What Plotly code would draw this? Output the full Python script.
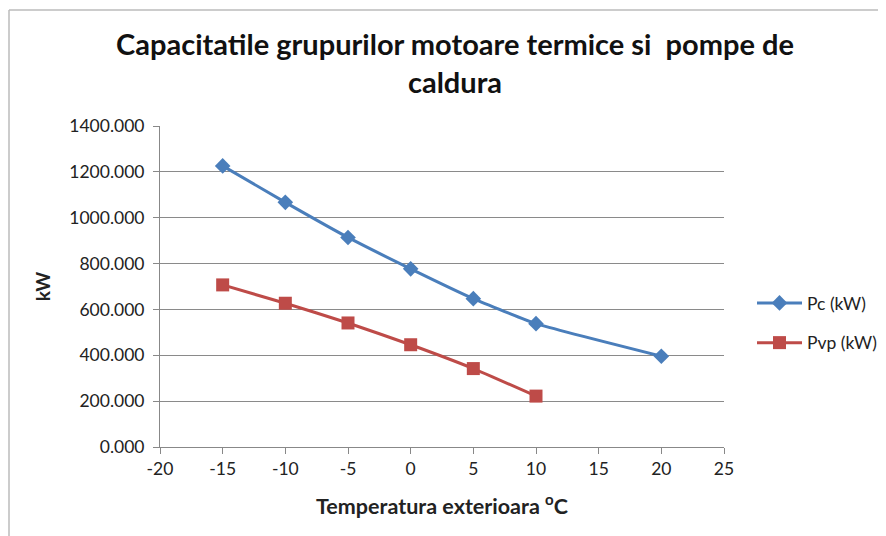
import plotly.graph_objects as go

temps_pc = [-15, -10, -5, 0, 5, 10, 20]
pc_kw = [1226, 1067, 914, 777, 647, 538, 396]
temps_pvp = [-15, -10, -5, 0, 5, 10]
pvp_kw = [707, 627, 541, 446, 342, 222]

x_ticks = [-20, -15, -10, -5, 0, 5, 10, 15, 20, 25]
x_tick_labels = [str(v) for v in x_ticks]

title_text = "Capacitatile grupurilor motoare termice si  pompe de<br>caldura"
x_title = "Temperatura exterioara <sup>o</sup>C"
y_title = "kW"

W, H = 886, 536
OFF = 8  # page body margin offset
# plot area in page pixels: x 160..724, y 126..447
L = 160 - OFF
T = 126 - OFF
R = W - (724 - OFF)
B = H - (447 - OFF)
pw, ph = W - L - R, H - T - B

def px(x):
    return (x - OFF - L) / pw

def py(y):
    return (H - B - (y - OFF)) / ph

font_family = "Lato, Open Sans, sans-serif"

fig = go.Figure()
fig.add_trace(go.Scatter(
    x=temps_pc, y=pc_kw, name="Pc (kW)", mode="lines+markers", legendgroup="a",
    line=dict(color="#4A7EBB", width=3, shape="spline", smoothing=0.4),
    marker=dict(symbol="diamond", size=12, color="#4A7EBB"),
))
fig.add_trace(go.Scatter(
    x=temps_pvp, y=pvp_kw, name="Pvp (kW)", mode="lines+markers", legendgroup="b",
    line=dict(color="#BE4B48", width=3, shape="spline", smoothing=0.4),
    marker=dict(symbol="square", size=13, color="#BE4B48"),
))

fig.update_layout(
    width=W, height=H,
    margin=dict(l=L, r=R, t=T, b=B, autoexpand=False),
    paper_bgcolor="white", plot_bgcolor="white",
    font=dict(family=font_family, color="#222222", size=18),
    title=dict(text="<b>" + title_text + "</b>", x=(455 - OFF) / W, xanchor="center",
               y=1 - (55 - OFF) / H, yanchor="middle",
               font=dict(size=29, family=font_family, color="#111111")),
    showlegend=True,
    legend=dict(x=px(752), y=py(285), xanchor="left", yanchor="top",
                font=dict(size=17.5, family=font_family, color="#222222"),
                bgcolor="rgba(0,0,0,0)", tracegroupgap=14, itemwidth=45),
    xaxis=dict(
        range=[-20, 25], tickmode="array", tickvals=x_ticks, ticktext=x_tick_labels,
        showgrid=False, zeroline=False, showline=True, linecolor="#888888",
        linewidth=1, ticks="outside", ticklen=6, tickcolor="#888888",
        tickfont=dict(size=17.5), automargin=False,
        title=dict(text="<b>" + x_title + "</b>", font=dict(size=21.5), standoff=20),
    ),
    yaxis=dict(
        range=[0, 1400], tickmode="linear", tick0=0, dtick=200,
        tickformat=".3f", showgrid=True, gridcolor="#8A8A8A", gridwidth=1,
        zeroline=False, showline=True, linecolor="#888888", linewidth=1,
        ticks="outside", ticklen=6, tickcolor="#888888", ticklabelstandoff=5,
        tickfont=dict(size=17.5), automargin=False,
        title=dict(text="<b>" + y_title + "</b>", font=dict(size=19), standoff=13),
    ),
    shapes=[
        dict(type="line", xref="paper", yref="paper",
             x0=px(9), x1=px(9), y0=py(10), y1=py(H + 20),
             line=dict(color="#BBBBBB", width=1.5)),
        dict(type="line", xref="paper", yref="paper",
             x0=px(9), x1=px(W + 20), y0=py(10), y1=py(10),
             line=dict(color="#BBBBBB", width=1.5)),
    ],
)

fig.write_html("out.html")
